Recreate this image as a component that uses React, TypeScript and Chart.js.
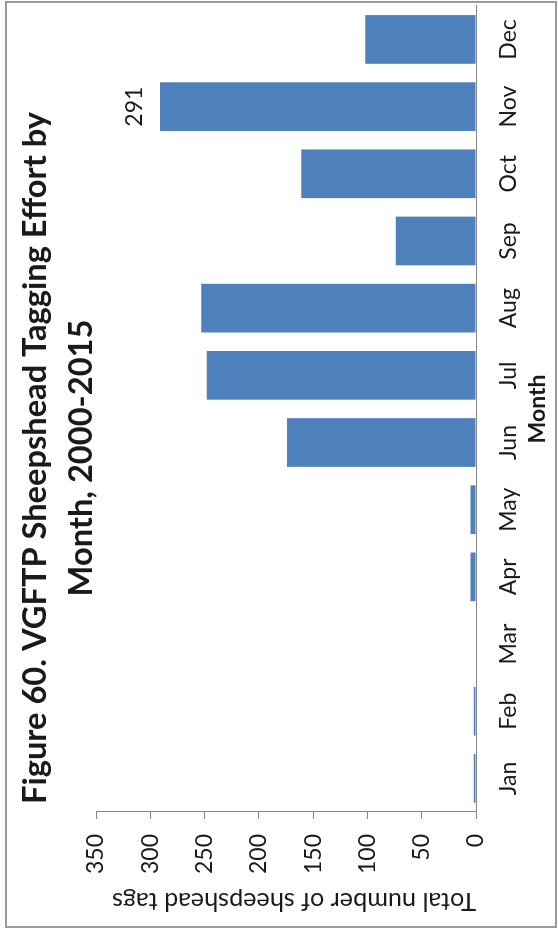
import React, { useEffect, useRef } from 'react';
import { Chart, registerables } from 'chart.js';

Chart.register(...registerables);

// ---- data ----
const months = ['Jan', 'Feb', 'Mar', 'Apr', 'May', 'Jun', 'Jul', 'Aug', 'Sep', 'Oct', 'Nov', 'Dec'];
const tagCounts = [2, 2, 0, 5, 5, 174, 248, 253, 74, 161, 291, 102];
const shownValueLabels = ['', '', '', '', '', '', '', '', '', '', '291', ''];
const valueTicks = [0, 50, 100, 150, 200, 250, 300, 350];
const titleLines = ['Figure 60. VGFTP Sheepshead Tagging Effort by', 'Month, 2000-2015'];
const xAxisTitle = 'Month';
const yAxisTitle = 'Total number of sheepshead tags';

// ---- styles ----
const FONT = 'Lato, "Open Sans", sans-serif';
const TEXT = '#1a1a1a';
const AXIS = '#868686';
const BAR = '#4F81BD';
const TICK_SIZE = 23;
const TITLE_WIDTH = 692; // width of the first title line
const Y_TITLE_WIDTH = 364;
// unrotated canvas size (the whole chart is turned 90deg counter-clockwise)
const W = 935;
const H = 558;

function fitFont(ctx: CanvasRenderingContext2D, text: string, weight: string, target: number) {
  ctx.font = `${weight} 20px ${FONT}`;
  const w = ctx.measureText(text).width || 1;
  const size = (20 * target) / w;
  return `${weight} ${size.toFixed(2)}px ${FONT}`;
}

const textPlugin = {
  id: 'customText',
  afterDatasetsDraw(chart: any) {
    const ctx = chart.ctx as CanvasRenderingContext2D;
    ctx.save();
    ctx.fillStyle = TEXT;
    // data label(s)
    const meta = chart.getDatasetMeta(0);
    ctx.font = `${TICK_SIZE}px ${FONT}`;
    ctx.textAlign = 'center';
    ctx.textBaseline = 'alphabetic';
    meta.data.forEach((bar: any, i: number) => {
      const t = shownValueLabels[i];
      if (!t) return;
      ctx.fillText(t, bar.x, bar.y - 18);
    });
    // chart title
    ctx.font = fitFont(ctx, titleLines[0], 'bold', TITLE_WIDTH);
    titleLines.forEach((line, i) => ctx.fillText(line, 477, 46 + i * 46));
    // value-axis title
    ctx.translate(34, 294);
    ctx.rotate(-Math.PI / 2);
    ctx.font = fitFont(ctx, yAxisTitle, 'normal', Y_TITLE_WIDTH);
    ctx.textBaseline = 'middle';
    ctx.textAlign = 'center';
    ctx.fillText(yAxisTitle, 0, 0);
    ctx.restore();
  },
};

export default function App() {
  const ref = useRef<HTMLCanvasElement | null>(null);

  useEffect(() => {
    if (!ref.current) return;
    const chart = new Chart(ref.current, {
      type: 'bar',
      data: {
        labels: months,
        datasets: [
          {
            data: tagCounts,
            backgroundColor: BAR,
            borderWidth: 0,
            barPercentage: 0.725,
            categoryPercentage: 1,
          },
        ],
      },
      options: {
        animation: false,
        responsive: false,
        devicePixelRatio: 1,
        layout: { padding: { top: 96, right: 5, bottom: 0, left: 0 } },
        plugins: {
          legend: { display: false },
          title: { display: false },
          tooltip: { enabled: false },
        },
        scales: {
          x: {
            type: 'category',
            grid: { drawOnChartArea: false, drawTicks: false },
            border: { display: true, color: AXIS, width: 1 },
            ticks: {
              color: TEXT,
              font: { family: FONT, size: TICK_SIZE },
              padding: 19,
              maxRotation: 0,
              autoSkip: false,
            },
            title: {
              display: true,
              text: xAxisTitle,
              color: TEXT,
              font: { family: FONT, size: TICK_SIZE, weight: 'bold' },
              padding: { top: 0, bottom: 7 },
            },
            afterFit: (s: any) => {
              s.height = 82;
            },
          },
          y: {
            min: 0,
            max: 350,
            afterBuildTicks: (s: any) => {
              s.ticks = valueTicks.map((v) => ({ value: v }));
            },
            ticks: {
              color: TEXT,
              font: { family: FONT, size: TICK_SIZE },
              padding: 15,
            },
            grid: { drawOnChartArea: false, drawTicks: true, tickLength: 7, color: AXIS },
            border: { display: true, color: AXIS, width: 1 },
            afterFit: (s: any) => {
              s.width = 123;
            },
          },
        },
      } as any,
      plugins: [textPlugin],
    });
    return () => chart.destroy();
  }, []);

  return (
    <div
      style={{
        position: 'absolute',
        left: 0,
        top: 0,
        width: 558,
        height: 935,
        overflow: 'hidden',
        background: '#fff',
      }}
    >
      <canvas
        ref={ref}
        width={W}
        height={H}
        style={{
          position: 'absolute',
          left: 0,
          top: 0,
          width: W,
          height: H,
          transformOrigin: '0 0',
          transform: `translate(0px, ${W}px) rotate(-90deg)`,
        }}
      />
      <div
        style={{
          position: 'absolute',
          left: 5,
          top: 1,
          width: 552,
          height: 927,
          boxSizing: 'border-box',
          border: '2px solid #9a9a9a',
          pointerEvents: 'none',
        }}
      />
    </div>
  );
}
